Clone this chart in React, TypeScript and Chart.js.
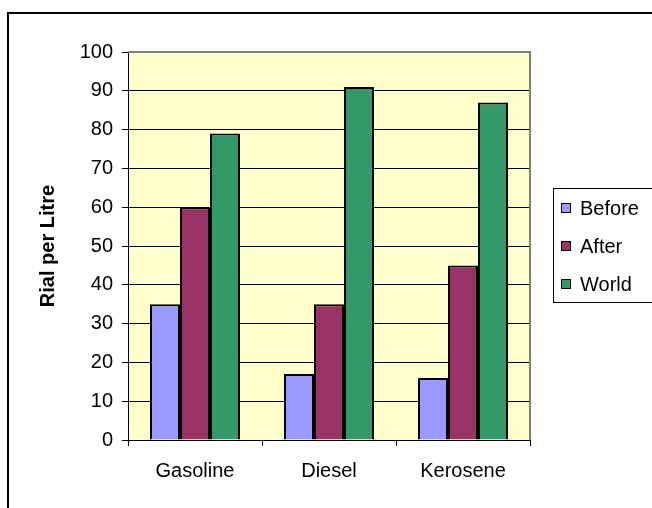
import React, { useEffect, useRef } from "react";
import { Chart, registerables } from "chart.js";

Chart.register(...registerables);

const categories = ["Gasoline", "Diesel", "Kerosene"];
const seriesNames = ["Before", "After", "World"];
const beforeValues = [35, 17, 16];
const afterValues = [60, 35, 45];
const worldValues = [79, 91, 87];
const yTickValues = [0, 10, 20, 30, 40, 50, 60, 70, 80, 90, 100];
const yTitle = "Rial per Litre";
const seriesColors = ["#9999FF", "#993366", "#339966"];

const FONT = "'Liberation Sans', Arial, sans-serif";

const framePlugin = {
  id: "framePlugin",
  beforeDraw(chart: any) {
    const { ctx, chartArea } = chart;
    ctx.save();
    ctx.fillStyle = "#FFFFFF";
    ctx.fillRect(0, 0, chart.width, chart.height);
    ctx.fillStyle = "#FFFFCC";
    ctx.fillRect(chartArea.left, chartArea.top, chartArea.right - chartArea.left, chartArea.bottom - chartArea.top);
    // outer chart border
    ctx.fillStyle = "#000000";
    ctx.fillRect(7, 12, 2, chart.height);
    ctx.fillRect(7, 12, chart.width, 2);
    ctx.restore();
  },
  afterDraw(chart: any) {
    const { ctx, chartArea } = chart;
    ctx.save();
    // plot area grey border (top and right)
    ctx.fillStyle = "#808080";
    ctx.fillRect(chartArea.left, chartArea.top - 1, chartArea.right - chartArea.left + 1, 2);
    ctx.fillRect(chartArea.right - 1, chartArea.top - 1, 2, chartArea.bottom - chartArea.top + 1);
    // legend
    const lx = 553;
    const ly = 188;
    ctx.strokeStyle = "#000000";
    ctx.lineWidth = 1;
    ctx.strokeRect(lx + 0.5, ly + 0.5, 200, 114);
    ctx.font = `20px ${FONT}`;
    ctx.textBaseline = "middle";
    ctx.textAlign = "left";
    chart.data.datasets.forEach((ds: any, i: number) => {
      const cy = 208 + i * 38;
      ctx.fillStyle = ds.backgroundColor;
      ctx.fillRect(561, cy - 5, 10, 10);
      ctx.strokeRect(561.5, cy - 4.5, 9, 9);
      ctx.fillStyle = "#000000";
      ctx.fillText(ds.label, 580, cy + 1);
    });
    ctx.restore();
  },
};

export default function App() {
  const canvasRef = useRef<HTMLCanvasElement | null>(null);

  useEffect(() => {
    if (!canvasRef.current) return;
    const seriesValues = [beforeValues, afterValues, worldValues];
    const chart = new Chart(canvasRef.current, {
      type: "bar",
      data: {
        labels: categories,
        datasets: seriesNames.map((name, i) => ({
          label: name,
          data: seriesValues[i],
          backgroundColor: seriesColors[i],
          borderColor: "#000000",
          borderWidth: 2,
          barPercentage: 1,
          categoryPercentage: 0.672,
        })),
      },
      options: {
        responsive: false,
        animation: false,
        devicePixelRatio: 1,
        layout: { padding: { left: 8, top: 52, right: 122, bottom: 0 } },
        plugins: {
          legend: { display: false },
          tooltip: { enabled: false },
        },
        scales: {
          x: {
            grid: {
              display: true,
              drawOnChartArea: false,
              offset: true,
              tickLength: 6,
              color: "#000000",
            },
            border: { color: "#000000", width: 1 },
            ticks: { color: "#000000", font: { family: FONT, size: 20 }, padding: 13 },
            afterFit: (s: any) => {
              s.height = 68;
            },
          },
          y: {
            min: 0,
            max: 100,
            afterBuildTicks: (s: any) => {
              s.ticks = yTickValues.map((v) => ({ value: v }));
            },
            grid: {
              color: (c: any) => (c.tick && c.tick.value === 100 ? "#808080" : "#000000"),
              lineWidth: 1,
              tickLength: 6,
              tickColor: "#000000",
            },
            border: { color: "#000000", width: 1 },
            ticks: { color: "#000000", font: { family: FONT, size: 20 }, padding: 9 },
            title: {
              display: true,
              text: yTitle,
              color: "#000000",
              font: { family: FONT, size: 20, weight: "bold" },
              padding: { top: 28, bottom: 0 },
            },
            afterFit: (s: any) => {
              s.width = 120;
            },
          },
        },
      },
      plugins: [framePlugin],
    });
    return () => chart.destroy();
  }, []);

  return (
    <div style={{ position: "fixed", left: 0, top: 0, width: 652, height: 508 }}>
      <canvas ref={canvasRef} width={652} height={508} style={{ width: 652, height: 508 }} />
    </div>
  );
}
